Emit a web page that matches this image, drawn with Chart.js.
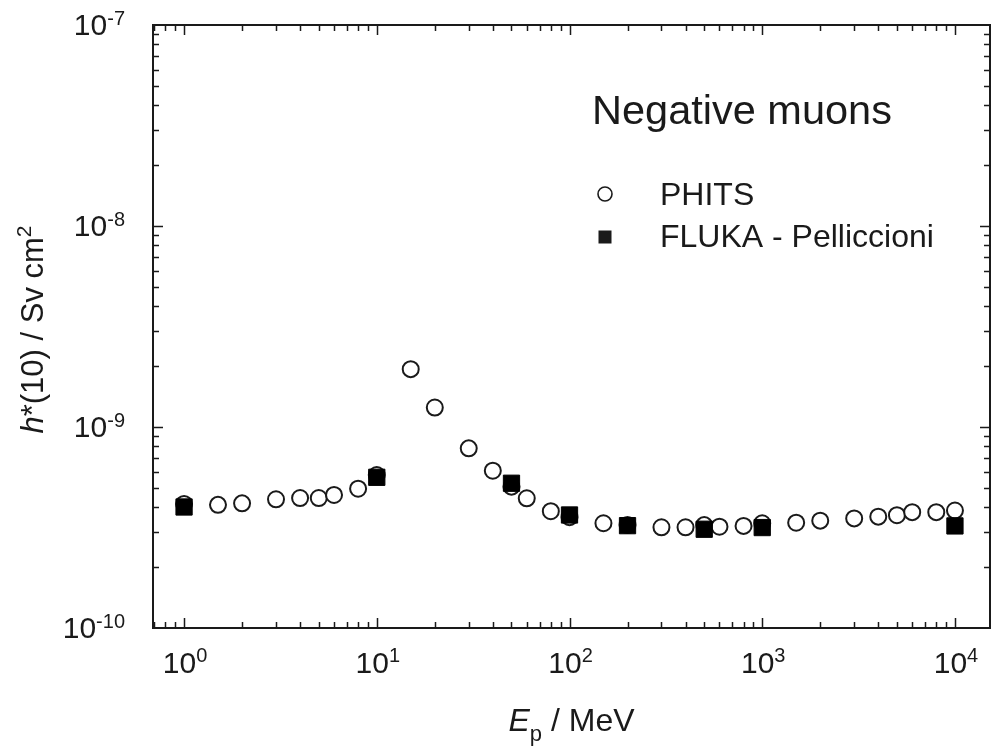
<!DOCTYPE html>
<html>
<head>
<meta charset="utf-8">
<script src="https://cdn.jsdelivr.net/npm/chart.js@4.4.1/dist/chart.umd.min.js"></script>
<style>
  body { margin: 0; background: #fff; }
  #wrap { width: 992px; height: 749px; }
</style>
</head>
<body>
<div id="wrap"><canvas id="doseChart" width="992" height="749"></canvas></div>
<script>
// energies in MeV, h*(10) in Sv cm2
const phitsEnergy = [1, 1.5, 2, 3, 4, 5, 6, 8, 10, 15, 20, 30, 40, 50, 60, 80, 100, 150, 200, 300, 400, 500, 600, 800, 1000, 1500, 2000, 3000, 4000, 5000, 6000, 8000, 10000];
const phitsDose = [4.14e-10, 4.1e-10, 4.17e-10, 4.37e-10, 4.43e-10, 4.43e-10, 4.59e-10, 4.93e-10, 5.77e-10, 1.94e-9, 1.25e-9, 7.83e-10, 6.06e-10, 5.05e-10, 4.42e-10, 3.81e-10, 3.56e-10, 3.32e-10, 3.25e-10, 3.17e-10, 3.17e-10, 3.25e-10, 3.19e-10, 3.22e-10, 3.32e-10, 3.34e-10, 3.42e-10, 3.51e-10, 3.58e-10, 3.64e-10, 3.77e-10, 3.77e-10, 3.84e-10];
const flukaEnergy = [1, 10, 50, 100, 200, 500, 1000, 10000];
const flukaDose = [4.0e-10, 5.62e-10, 5.25e-10, 3.65e-10, 3.23e-10, 3.10e-10, 3.16e-10, 3.22e-10];

const xTickExp = ['0', '1', '2', '3', '4'];
const yTickExp = ['-10', '-9', '-8', '-7'];
const seriesNames = ['PHITS', 'FLUKA - Pelliccioni'];
const panelTitle = 'Negative muons';

const FONT = '"Liberation Sans", Arial, sans-serif';
const INK = '#1a1a1a';

const toPoints = (xs, ys) => xs.map((v, i) => ({ x: v, y: ys[i] }));

// ticks on log axes: 1..9 per decade, pointing inward on all four sides
function logTicks(min, max) {
    const out = [];
    for (let d = Math.floor(Math.log10(min)); d <= Math.ceil(Math.log10(max)); d++) {
        for (let m = 1; m <= 9; m++) {
            const v = m * Math.pow(10, d);
            if (v >= min * 1.0001 && v <= max / 1.0001) out.push({ v, major: m === 1 });
        }
    }
    return out;
}

// text made of pieces: [text, size, italic, raise]
function drawPieces(ctx, pieces, x, y, align) {
    const widths = pieces.map(p => {
        ctx.font = (p[2] ? 'italic ' : '') + p[1] + 'px ' + FONT;
        return ctx.measureText(p[0]).width;
    });
    const total = widths.reduce((a, b) => a + b, 0);
    let cx = align === 'center' ? x - total / 2 : align === 'right' ? x - total : x;
    ctx.textAlign = 'left';
    ctx.textBaseline = 'alphabetic';
    pieces.forEach((p, i) => {
        ctx.font = (p[2] ? 'italic ' : '') + p[1] + 'px ' + FONT;
        ctx.fillText(p[0], cx, y - (p[3] || 0));
        cx += widths[i];
    });
}

const decorations = {
    id: 'decorations',
    beforeDatasetsDraw(chart) {
        const { ctx, chartArea: a, scales: { x, y } } = chart;
        ctx.save();
        ctx.strokeStyle = INK;
        ctx.lineWidth = 1.5;
        logTicks(x.min, x.max).forEach(t => {
            const px = Math.round(x.getPixelForValue(t.v)) + 0.5;
            const len = t.major ? 10 : 6;
            ctx.beginPath();
            ctx.moveTo(px, a.bottom); ctx.lineTo(px, a.bottom - len);
            ctx.moveTo(px, a.top); ctx.lineTo(px, a.top + len);
            ctx.stroke();
        });
        logTicks(y.min, y.max).forEach(t => {
            const py = Math.round(y.getPixelForValue(t.v)) + 0.5;
            const len = t.major ? 10 : 6;
            ctx.beginPath();
            ctx.moveTo(a.left, py); ctx.lineTo(a.left + len, py);
            ctx.moveTo(a.right, py); ctx.lineTo(a.right - len, py);
            ctx.stroke();
        });
        ctx.lineWidth = 2;
        ctx.strokeRect(a.left, a.top, a.right - a.left, a.bottom - a.top);
        ctx.restore();
    },
    afterDraw(chart) {
        const { ctx, chartArea: a, scales: { x, y } } = chart;
        ctx.save();
        ctx.fillStyle = INK;

        // tick labels
        xTickExp.forEach(e => {
            const px = x.getPixelForValue(Math.pow(10, Number(e)));
            drawPieces(ctx, [['10', 30], [e, 20, false, 11]], px + 1, a.bottom + 45, 'center');
        });
        yTickExp.forEach(e => {
            const py = y.getPixelForValue(Math.pow(10, Number(e)));
            drawPieces(ctx, [['10', 30], [e, 20, false, 10]], 125, py + 10, 'right');
        });

        // axis titles
        const cx = (a.left + a.right) / 2;
        ctx.font = 'italic 32px ' + FONT;
        const wE = ctx.measureText('E').width;
        ctx.font = '22px ' + FONT;
        const wp = ctx.measureText('p').width;
        ctx.font = '32px ' + FONT;
        const wRest = ctx.measureText(' / MeV').width;
        let sx = cx - (wE + wp + wRest) / 2;
        drawPieces(ctx, [['E', 32, true]], sx, 731, 'left');
        drawPieces(ctx, [['p', 22, false, -10]], sx + wE, 731, 'left');
        drawPieces(ctx, [[' / MeV', 32]], sx + wE + wp, 731, 'left');

        ctx.save();
        ctx.translate(43, (a.top + a.bottom) / 2 + 3);
        ctx.rotate(-Math.PI / 2);
        drawPieces(ctx, [['h', 31, true], ['*(10) / Sv cm', 31], ['2', 21, false, 12]], 0, 0, 'center');
        ctx.restore();

        // legend block
        drawPieces(ctx, [[panelTitle, 41.5]], 592, 124, 'left');
        ctx.strokeStyle = INK;
        ctx.lineWidth = 1.6;
        ctx.beginPath();
        ctx.arc(605, 194, 7, 0, Math.PI * 2);
        ctx.stroke();
        ctx.fillRect(598.5, 230.5, 13, 13);
        drawPieces(ctx, [[chart.data.datasets[0].label, 32]], 660, 205, 'left');
        drawPieces(ctx, [[chart.data.datasets[1].label, 32]], 660, 247, 'left');
        ctx.restore();
    }
};

new Chart(document.getElementById('doseChart'), {
    type: 'scatter',
    data: {
        datasets: [
            {
                label: seriesNames[0],
                data: toPoints(phitsEnergy, phitsDose),
                pointStyle: 'circle',
                pointRadius: 8,
                pointHoverRadius: 8,
                borderWidth: 2,
                borderColor: INK,
                backgroundColor: '#fff',
                order: 2
            },
            {
                label: seriesNames[1],
                data: toPoints(flukaEnergy, flukaDose),
                pointStyle: 'rect',
                pointRadius: 11.5,
                pointHoverRadius: 11.5,
                borderWidth: 1,
                borderColor: '#000',
                backgroundColor: '#000',
                order: 1
            }
        ]
    },
    options: {
        responsive: false,
        animation: false,
        events: [],
        layout: { autoPadding: false, padding: { left: 153, right: 2, top: 25, bottom: 121 } },
        plugins: { legend: { display: false }, tooltip: { enabled: false } },
        scales: {
            x: { type: 'logarithmic', min: 0.69, max: 15200, display: false },
            y: { type: 'logarithmic', min: 1e-10, max: 1e-7, display: false }
        }
    },
    plugins: [decorations]
});
</script>
</body>
</html>
